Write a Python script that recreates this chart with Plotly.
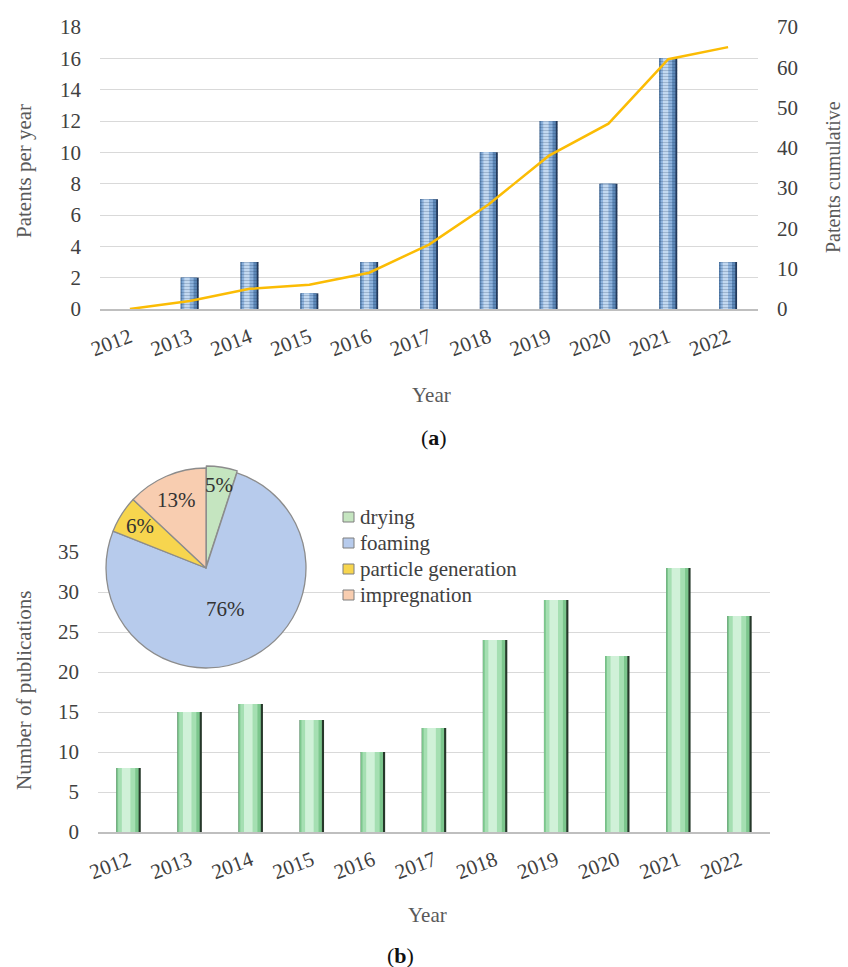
import math
import plotly.graph_objects as go

# ---------------- data ----------------
years = ["2012", "2013", "2014", "2015", "2016", "2017",
         "2018", "2019", "2020", "2021", "2022"]
patents_per_year = [0, 2, 3, 1, 3, 7, 10, 12, 8, 16, 3]
patents_cumulative = [0, 2, 5, 6, 9, 16, 26, 38, 46, 62, 65]
publications = [8, 15, 16, 14, 10, 13, 24, 29, 22, 33, 27]

process_labels = ["drying", "foaming", "particle generation", "impregnation"]
process_share = [5, 76, 6, 13]

# ---------------- styling ----------------
W, H = 848, 967
FONT = "Liberation Serif"
TICK_COLOR = "#404040"
TITLE_COLOR = "#595959"
GRID = "#d9d9d9"
BASE = "#bfbfbf"

process_colors = ["#c5e5c0", "#b7cbec", "#f7d54e", "#f8cdb0"]
label_radius = [0.84, 0.45, 0.78, 0.74]

# layered widths/colours give the bars a shaded, rounded look
blue_layers = [(0.30, -0.15, "#22385a"), (0.27, -0.15, "#5b86b6"),
               (0.19, -0.125, "#8db2dc"), (0.09, -0.09, "#c2d8f0")]
green_layers = [(0.40, -0.20, "#26382a"), (0.365, -0.20, "#7cc68d"),
                (0.28, -0.17, "#a5dfb2"), (0.14, -0.11, "#d0f1d8")]


def fx(p):
    return p / W


def fy(p):
    return 1 - p / H


fig = go.Figure()

# ---- (a) patents per year (bars) + cumulative (line) ----
for w, off, col in blue_layers:
    fig.add_trace(go.Bar(x=years, y=patents_per_year, width=w, offset=off,
                         marker=dict(color=col, line=dict(width=0)),
                         xaxis="x", yaxis="y", showlegend=False,
                         hoverinfo="skip"))
# thin horizontal ribbing on the blue bars
fig.add_trace(go.Bar(x=years, y=patents_per_year, width=0.30, offset=-0.15,
                     marker=dict(color="rgba(0,0,0,0)", line=dict(width=0),
                                 pattern=dict(shape="-", fillmode="overlay",
                                              fgcolor="rgba(30,55,90,0.45)",
                                              size=3, solidity=0.35)),
                     xaxis="x", yaxis="y", showlegend=False, hoverinfo="skip"))
fig.add_trace(go.Scatter(x=years, y=patents_cumulative, mode="lines",
                         line=dict(color="#fbbc04", width=2.5),
                         xaxis="x", yaxis="y2", showlegend=False))

# ---- (b) publications per year ----
for w, off, col in green_layers:
    fig.add_trace(go.Bar(x=years, y=publications, width=w, offset=off,
                         marker=dict(color=col, line=dict(width=0)),
                         xaxis="x2", yaxis="y3", showlegend=False,
                         hoverinfo="skip"))

# ---- inset pie: share of processes ----
pie_cx, pie_cy, pie_r = 206, 568, 100
pulls = [0.02, 0, 0, 0]
dom_r = pie_r * (1 + max(pulls))
fig.add_trace(go.Pie(
    labels=process_labels, values=process_share, sort=False,
    direction="clockwise", rotation=0, pull=pulls,
    marker=dict(colors=process_colors, line=dict(color="#8c8c8c", width=1.3)),
    textinfo="none", hoverinfo="label+percent",
    domain=dict(x=[fx(pie_cx - dom_r), fx(pie_cx + dom_r)],
                y=[fy(pie_cy + dom_r), fy(pie_cy - dom_r)]),
    showlegend=False,
))

annotations = []
shapes = []


def label(text, x, y, size=21, color=TITLE_COLOR, angle=0, xanchor="center"):
    annotations.append(dict(x=fx(x), y=fy(y), xref="paper", yref="paper",
                            xanchor=xanchor, yanchor="middle",
                            text=text, showarrow=False, textangle=angle,
                            font=dict(family=FONT, size=size, color=color)))


# percentage labels placed at each slice's mid-angle
total = sum(process_share)
cum = 0
for v, f in zip(process_share, label_radius):
    mid = (cum + v / 2) / total * 2 * math.pi
    cum += v
    px = pie_cx + f * pie_r * math.sin(mid)
    py = pie_cy - f * pie_r * math.cos(mid)
    label(f"{v}%", px, py, color="#333333")

# pie key: small swatch + label per process
key_x, key_y, key_step = 343, 517, 26
for i, (lab, col) in enumerate(zip(process_labels, process_colors)):
    yc = key_y + i * key_step
    shapes.append(dict(type="rect", xref="paper", yref="paper",
                       x0=fx(key_x), x1=fx(key_x + 11),
                       y0=fy(yc + 5), y1=fy(yc - 5),
                       fillcolor=col, line=dict(color="#7f7f7f", width=1)))
    label(lab, key_x + 15, yc, color=TICK_COLOR, xanchor="left")

# axis titles and panel labels
label("Patents per year", 24, 171, angle=-90)
label("Patents cumulative", 833, 177, size=20, angle=-90)
label("Year", 431, 395)
label("(<b>a</b>)", 434, 438, size=22, color="#111111")
label("Number of publications", 24, 691, angle=-90)
label("Year", 427, 915)
label("(<b>b</b>)", 400, 955, size=22, color="#111111")

tickfont = dict(family=FONT, size=21, color=TICK_COLOR)

common_x = dict(type="category", showline=True, linecolor=BASE, linewidth=2,
                showgrid=False, tickangle=-21, tickfont=tickfont, ticks="",
                ticklabelstandoff=6, automargin=False)
common_y = dict(zeroline=False, showline=False, tickfont=tickfont, ticks="",
                ticklabelstandoff=18, automargin=False)

fig.update_layout(
    width=W, height=H,
    margin=dict(l=0, r=0, t=0, b=0, pad=0, autoexpand=False),
    paper_bgcolor="white", plot_bgcolor="rgba(0,0,0,0)",
    barmode="overlay", showlegend=False,
    font=dict(family=FONT, color=TICK_COLOR),
    xaxis=dict(domain=[fx(100), fx(758)], anchor="y", **common_x),
    yaxis=dict(domain=[fy(309), fy(27)], anchor="x", range=[0, 18], dtick=2,
               showgrid=True, gridcolor=GRID, gridwidth=1, **common_y),
    yaxis2=dict(overlaying="y", side="right", anchor="x", range=[0, 70],
                dtick=10, showgrid=False, **common_y),
    xaxis2=dict(domain=[fx(98), fx(770)], anchor="y3", **common_x),
    yaxis3=dict(domain=[fy(832), fy(552)], anchor="x2", range=[0, 35],
                dtick=5, showgrid=True, gridcolor=GRID, gridwidth=1,
                **common_y),
    annotations=annotations,
    shapes=shapes,
)

fig.write_html("out.html")
